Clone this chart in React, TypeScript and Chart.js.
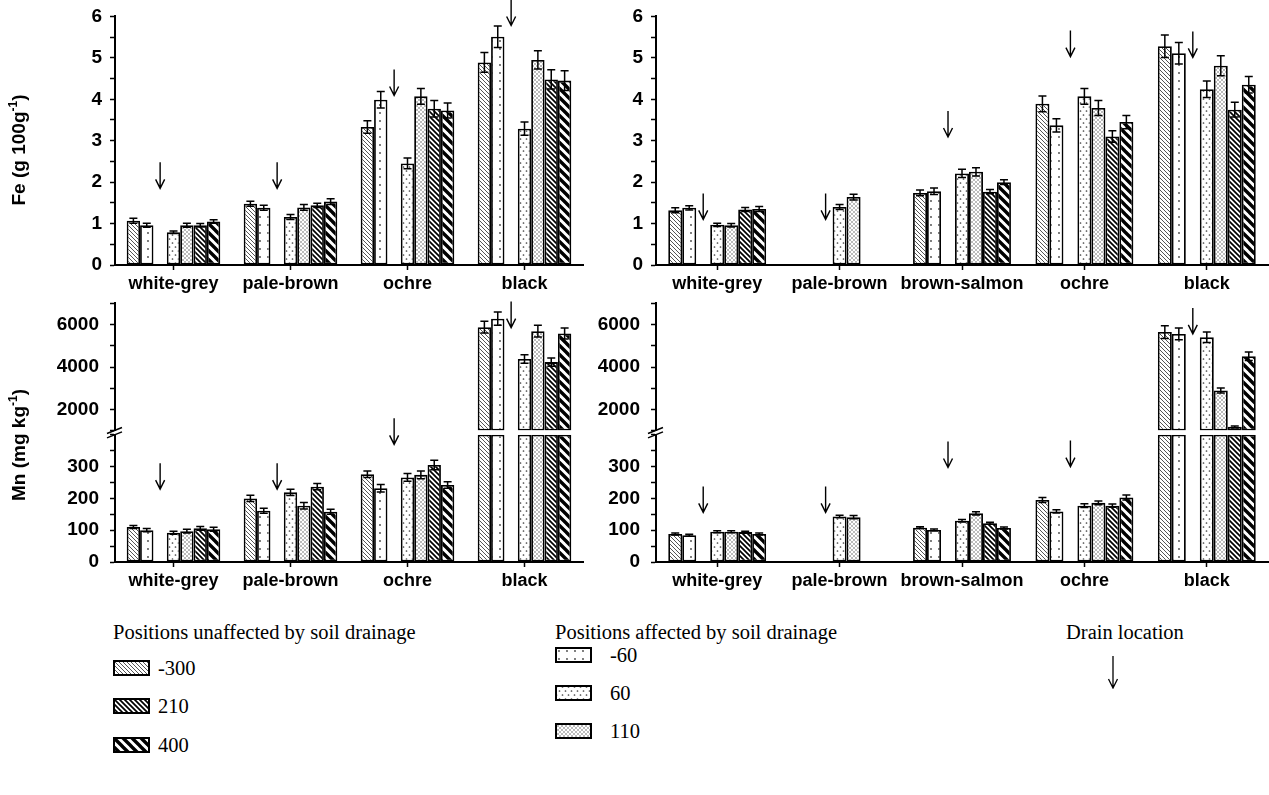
import React, { useEffect, useRef } from 'react';
import { Chart, registerables } from 'chart.js';

Chart.register(...registerables);

// ---------------- data ----------------
// series order: -300, -60, 60, 110, 210, 400 (drain sits between -60 and 60)
const feLeftCats = ['white-grey', 'pale-brown', 'ochre', 'black'];
const feLeftM300 = [1.07, 1.48, 3.33, 4.89];
const feLeftM60 = [0.96, 1.38, 3.99, 5.51];
const feLeftP60 = [0.79, 1.16, 2.45, 3.29];
const feLeftP110 = [0.96, 1.39, 4.07, 4.95];
const feLeftP210 = [0.96, 1.44, 3.77, 4.48];
const feLeftP400 = [1.05, 1.53, 3.73, 4.45];
const feLeftErrM300 = [0.06, 0.06, 0.15, 0.24];
const feLeftErrM60 = [0.05, 0.06, 0.2, 0.26];
const feLeftErrP60 = [0.03, 0.06, 0.13, 0.16];
const feLeftErrP110 = [0.05, 0.07, 0.19, 0.22];
const feLeftErrP210 = [0.04, 0.05, 0.2, 0.23];
const feLeftErrP400 = [0.04, 0.07, 0.18, 0.24];
const feLeftDrain = [1.85, 1.85, 4.09, 5.78];

const feRightCats = ['white-grey', 'pale-brown', 'brown-salmon', 'ochre', 'black'];
const feRightM300 = [1.32, null, 1.74, 3.89, 5.28];
const feRightM60 = [1.38, null, 1.78, 3.37, 5.11];
const feRightP60 = [0.97, 1.4, 2.21, 4.07, 4.24];
const feRightP110 = [0.96, 1.64, 2.25, 3.79, 4.81];
const feRightP210 = [1.34, null, 1.77, 3.1, 3.75];
const feRightP400 = [1.35, null, 2.0, 3.45, 4.35];
const feRightErrM300 = [0.06, null, 0.07, 0.19, 0.27];
const feRightErrM60 = [0.05, null, 0.08, 0.16, 0.26];
const feRightErrP60 = [0.04, 0.06, 0.1, 0.19, 0.2];
const feRightErrP110 = [0.04, 0.07, 0.1, 0.18, 0.24];
const feRightErrP210 = [0.05, null, 0.05, 0.14, 0.18];
const feRightErrP400 = [0.06, null, 0.06, 0.16, 0.2];
const feRightDrain = [1.1, 1.1, 3.09, 5.03, 5.01];

const mnLeftCats = ['white-grey', 'pale-brown', 'ochre', 'black'];
const mnLeftM300 = [110, 200, 276, 5880];
const mnLeftM60 = [100, 161, 232, 6280];
const mnLeftP60 = [92, 219, 266, 4380];
const mnLeftP110 = [97, 177, 274, 5690];
const mnLeftP210 = [106, 237, 305, 4230];
const mnLeftP400 = [103, 158, 242, 5580];
const mnLeftErrM300 = [5, 10, 10, 280];
const mnLeftErrM60 = [5, 8, 12, 310];
const mnLeftErrP60 = [5, 10, 12, 200];
const mnLeftErrP110 = [6, 10, 12, 280];
const mnLeftErrP210 = [6, 10, 15, 200];
const mnLeftErrP400 = [6, 8, 10, 260];
const mnLeftDrain = [229, 229, 370, 5860];

const mnRightCats = ['white-grey', 'pale-brown', 'brown-salmon', 'ochre', 'black'];
const mnRightM300 = [88, null, 108, 195, 5650];
const mnRightM60 = [84, null, 101, 159, 5560];
const mnRightP60 = [95, 143, 130, 177, 5400];
const mnRightP110 = [95, 141, 153, 186, 2890];
const mnRightP210 = [94, null, 122, 177, 1180];
const mnRightP400 = [88, null, 107, 203, 4510];
const mnRightErrM300 = [3, null, 3, 8, 300];
const mnRightErrM60 = [3, null, 3, 5, 280];
const mnRightErrP60 = [3, 4, 4, 6, 250];
const mnRightErrP110 = [3, 5, 5, 6, 120];
const mnRightErrP210 = [3, null, 3, 5, 40];
const mnRightErrP400 = [3, null, 3, 8, 200];
const mnRightDrain = [156, 156, 297, 300, 5560];

const feTicksMax = 6;
const mnLowerMax = 400;
const mnUpperMin = 1000;
const mnUpperMax = 7000;

const unaffectedLabels = ['-300', '210', '400'];
const affectedLabels = ['-60', '60', '110'];

// ---------------- style ----------------
const FONT = '"Liberation Sans", Arial, Helvetica, sans-serif';
const SERIF = '"Liberation Serif", "Times New Roman", serif';
Chart.defaults.font.family = FONT;

const SLOT_LABELS = ['-300', '-60', 'drain', '60', '110', '210', '400'];
const SLOT_PATTERNS = ['hatchFine', 'dotsSparse', '', 'dotsMed', 'dotsDense', 'hatchMed', 'hatchBold'];
const GAP_WEIGHT = 0.033;

type Vals = (number | null)[];

function makePattern(ctx: CanvasRenderingContext2D, kind: string): CanvasPattern | string {
  const t = document.createElement('canvas');
  const diag = (n: number, w: number, color: string) => {
    t.width = n;
    t.height = n;
    const g = t.getContext('2d')!;
    g.fillStyle = '#fff';
    g.fillRect(0, 0, n, n);
    g.strokeStyle = color;
    g.lineWidth = w;
    g.beginPath();
    for (const k of [-n, 0, n]) {
      g.moveTo(k - 1, -1);
      g.lineTo(k + n + 1, n + 1);
    }
    g.stroke();
  };
  const dots = (w: number, h: number, pts: number[][], r: number, color: string) => {
    t.width = w;
    t.height = h;
    const g = t.getContext('2d')!;
    g.fillStyle = '#fff';
    g.fillRect(0, 0, w, h);
    g.fillStyle = color;
    for (const [x, y] of pts) {
      g.beginPath();
      g.arc(x, y, r, 0, Math.PI * 2);
      g.fill();
    }
  };
  switch (kind) {
    case 'hatchFine': diag(4, 1, '#555'); break;
    case 'hatchMed': diag(5, 1.7, '#000'); break;
    case 'hatchBold': diag(9, 3.4, '#000'); break;
    case 'dotsSparse': dots(8, 8, [[4, 4]], 0.9, '#444'); break;
    case 'dotsMed': dots(6, 8, [[1.5, 2], [4.5, 6]], 0.85, '#444'); break;
    case 'dotsDense': dots(4, 4, [[1, 1], [3, 3]], 0.75, '#555'); break;
    default: return '#fff';
  }
  return ctx.createPattern(t, 'repeat') || '#fff';
}

interface Panel {
  cats: string[];
  values: Vals[];
  errors: Vals[];
  drain: number[];
  mn: boolean;
  left: number; top: number; width: number; height: number;
  yWidth: number; padTop: number; padRight: number; xHeight: number;
  title?: [string, string, string];
  titleY?: number;
}

const errorBarPlugin = {
  id: 'errorBars',
  afterDatasetsDraw(chart: any) {
    const ctx = chart.ctx;
    ctx.save();
    ctx.strokeStyle = '#000';
    ctx.lineWidth = 1.5;
    chart.data.datasets.forEach((ds: any, di: number) => {
      if (!ds.errVals) return;
      const meta = chart.getDatasetMeta(di);
      const ys = chart.scales[meta.yAxisID];
      ds.rawVals.forEach((v: number | null, i: number) => {
        const e = ds.errVals[i];
        if (v == null || e == null) return;
        if (ds.section === 'low' && v > mnLowerMax) return;
        if (ds.section === 'up' && v <= mnUpperMin) return;
        const el = meta.data[i];
        if (!el) return;
        const x = el.x;
        const y1 = ys.getPixelForValue(v + e);
        const y0 = ys.getPixelForValue(v - e);
        const cw = 4;
        ctx.beginPath();
        ctx.moveTo(x, y0); ctx.lineTo(x, y1);
        ctx.moveTo(x - cw, y1); ctx.lineTo(x + cw, y1);
        ctx.moveTo(x - cw, y0); ctx.lineTo(x + cw, y0);
        ctx.stroke();
      });
    });
    ctx.restore();
  },
};

function drawArrow(ctx: CanvasRenderingContext2D, x: number, yTip: number, len: number) {
  ctx.beginPath();
  ctx.moveTo(x, yTip - len);
  ctx.lineTo(x, yTip);
  ctx.moveTo(x - 4.5, yTip - 9);
  ctx.lineTo(x, yTip);
  ctx.lineTo(x + 4.5, yTip - 9);
  ctx.stroke();
}

function drainPlugin(drain: number[], mn: boolean, gapIndex: number) {
  return {
    id: 'drainArrows',
    afterDatasetsDraw(chart: any) {
      const ctx = chart.ctx;
      const meta = chart.getDatasetMeta(gapIndex);
      ctx.save();
      ctx.strokeStyle = '#000';
      ctx.lineWidth = 1.4;
      drain.forEach((v, i) => {
        const el = meta.data[i];
        if (!el) return;
        const scale = mn ? (v > mnUpperMin ? chart.scales.yUp : chart.scales.yLow) : chart.scales.y;
        drawArrow(ctx, el.x, scale.getPixelForValue(v), 26);
      });
      ctx.restore();
    },
  };
}

function titlePlugin(parts: [string, string, string], cy: number) {
  return {
    id: 'yTitle',
    afterDraw(chart: any) {
      const ctx = chart.ctx;
      const cx = 20;
      ctx.save();
      ctx.translate(cx, cy);
      ctx.rotate(-Math.PI / 2);
      ctx.fillStyle = '#000';
      ctx.textBaseline = 'middle';
      const big = `bold 19px ${FONT}`;
      const small = `bold 12px ${FONT}`;
      ctx.font = big;
      const w1 = ctx.measureText(parts[0]).width;
      const w3 = ctx.measureText(parts[2]).width;
      ctx.font = small;
      const w2 = ctx.measureText(parts[1]).width;
      let x = -(w1 + w2 + w3) / 2;
      ctx.font = big;
      ctx.fillText(parts[0], x, 0);
      x += w1;
      ctx.font = small;
      ctx.fillText(parts[1], x, -6);
      x += w2;
      ctx.font = big;
      ctx.fillText(parts[2], x, 0);
      ctx.restore();
    },
  };
}

const breakPlugin = {
  id: 'axisBreak',
  afterDraw(chart: any) {
    const up = chart.scales.yUp;
    const low = chart.scales.yLow;
    if (!up || !low) return;
    const ctx = chart.ctx;
    const x = chart.chartArea.left;
    const mid = (up.bottom + low.top) / 2;
    ctx.save();
    ctx.strokeStyle = '#000';
    ctx.lineWidth = 1.5;
    ctx.beginPath();
    for (const off of [-2.2, 2.2]) {
      ctx.moveTo(x - 8, mid + off + 3);
      ctx.lineTo(x + 7, mid + off - 3);
    }
    ctx.stroke();
    ctx.restore();
  },
};

function makeConfig(p: Panel, ctx: CanvasRenderingContext2D): any {
  const xFont = { family: FONT, size: 18, weight: 'bold' as const };
  const yFont = { family: FONT, size: 19, weight: 'bold' as const };
  const barStyle = {
    borderColor: '#000',
    borderWidth: 1.8,
    borderSkipped: false,
    categoryPercentage: 0.8,
    barPercentage: 1.0,
  };
  const datasets: any[] = [];
  let vi = 0;
  let gapIndex = 0;
  SLOT_PATTERNS.forEach((pk, k) => {
    if (!pk) {
      gapIndex = datasets.length;
      datasets.push({
        label: SLOT_LABELS[k],
        data: p.cats.map(() => null),
        stack: 's' + k,
        yAxisID: p.mn ? 'yLow' : 'y',
        backgroundColor: '#fff',
        ...barStyle,
      });
      return;
    }
    const vals = p.values[vi];
    const errs = p.errors[vi];
    vi++;
    const bg = makePattern(ctx, pk);
    if (!p.mn) {
      datasets.push({
        label: SLOT_LABELS[k], data: vals, rawVals: vals, errVals: errs, section: 'all',
        backgroundColor: bg, stack: 's' + k, yAxisID: 'y', ...barStyle,
      });
    } else {
      datasets.push({
        label: SLOT_LABELS[k],
        data: vals.map((v) => (v == null ? null : Math.min(v, mnLowerMax))),
        rawVals: vals, errVals: errs, section: 'low',
        backgroundColor: bg, stack: 's' + k, yAxisID: 'yLow', ...barStyle,
      });
      datasets.push({
        label: SLOT_LABELS[k],
        data: vals.map((v) => (v != null && v > mnUpperMin ? [mnUpperMin, v] : null)),
        rawVals: vals, errVals: errs, section: 'up',
        backgroundColor: bg, stack: 's' + k, yAxisID: 'yUp', ...barStyle,
      });
    }
  });

  const grid = { display: true, drawOnChartArea: false, drawTicks: true, tickLength: 5, tickColor: '#000', tickWidth: 1.5 };
  const border = { display: true, color: '#000', width: 2 };
  const yAfterFit = (s: any) => { s.width = p.yWidth; };

  const scales: any = {
    x: {
      type: 'category',
      grid: { ...grid, offset: false },
      border,
      ticks: { color: '#000', font: xFont, autoSkip: false, maxRotation: 0, minRotation: 0, padding: 3 },
      afterFit: (s: any) => { s.height = p.xHeight; },
    },
  };
  if (!p.mn) {
    scales.y = {
      type: 'linear', position: 'left', min: 0, max: feTicksMax,
      grid, border,
      ticks: {
        stepSize: 0.5, autoSkip: false, maxTicksLimit: 100, color: '#000', font: yFont, padding: 8,
        callback: (v: number) => (Math.abs(v - Math.round(v)) < 1e-6 ? String(Math.round(v)) : ''),
      },
      afterFit: yAfterFit,
    };
  } else {
    scales.yLow = {
      type: 'linear', position: 'left', stack: 'mn', stackWeight: 1, weight: 0,
      min: 0, max: mnLowerMax, grid, border,
      ticks: {
        stepSize: 50, autoSkip: false, maxTicksLimit: 100, color: '#000', font: yFont, padding: 11,
        callback: (v: number) => (v % 100 === 0 && v < mnLowerMax ? String(v) : ''),
      },
      afterFit: yAfterFit,
    };
    scales.yGap = {
      type: 'linear', position: 'left', stack: 'mn', stackWeight: GAP_WEIGHT, weight: 1, display: false,
    };
    scales.yUp = {
      type: 'linear', position: 'left', stack: 'mn', stackWeight: 1, weight: 2,
      min: mnUpperMin, max: mnUpperMax, grid, border,
      ticks: {
        stepSize: 1000, autoSkip: false, maxTicksLimit: 100, color: '#000', font: yFont, padding: 11,
        callback: (v: number) => (v % 2000 === 0 ? String(v) : ''),
      },
      afterFit: yAfterFit,
    };
  }

  const plugins: any[] = [errorBarPlugin, drainPlugin(p.drain, p.mn, gapIndex)];
  if (p.mn) plugins.push(breakPlugin);
  if (p.title) plugins.push(titlePlugin(p.title, p.titleY ?? p.height / 2));

  return {
    type: 'bar',
    data: { labels: p.cats, datasets },
    options: {
      responsive: false,
      maintainAspectRatio: false,
      animation: false,
      layout: { autoPadding: false, padding: { top: p.padTop, right: p.padRight, left: 0, bottom: 0 } },
      plugins: { legend: { display: false }, tooltip: { enabled: false }, title: { display: false } },
      scales,
    },
    plugins,
  };
}

const panels: Panel[] = [
  {
    cats: feLeftCats,
    values: [feLeftM300, feLeftM60, feLeftP60, feLeftP110, feLeftP210, feLeftP400],
    errors: [feLeftErrM300, feLeftErrM60, feLeftErrP60, feLeftErrP110, feLeftErrP210, feLeftErrP400],
    drain: feLeftDrain, mn: false,
    left: 0, top: -3, width: 600, height: 298, yWidth: 115, padTop: 12, padRight: 17, xHeight: 30,
    title: ['Fe (g 100g', '-1', ')'], titleY: 153,
  },
  {
    cats: feRightCats,
    values: [feRightM300, feRightM60, feRightP60, feRightP110, feRightP210, feRightP400],
    errors: [feRightErrM300, feRightErrM60, feRightErrP60, feRightErrP110, feRightErrP210, feRightErrP400],
    drain: feRightDrain, mn: false,
    left: 575, top: -3, width: 694, height: 298, yWidth: 81, padTop: 12, padRight: 1, xHeight: 30,
  },
  {
    cats: mnLeftCats,
    values: [mnLeftM300, mnLeftM60, mnLeftP60, mnLeftP110, mnLeftP210, mnLeftP400],
    errors: [mnLeftErrM300, mnLeftErrM60, mnLeftErrP60, mnLeftErrP110, mnLeftErrP210, mnLeftErrP400],
    drain: mnLeftDrain, mn: true,
    left: 0, top: 281, width: 600, height: 314, yWidth: 115, padTop: 7, padRight: 17, xHeight: 33,
    title: ['Mn (mg kg', '-1', ')'], titleY: 164,
  },
  {
    cats: mnRightCats,
    values: [mnRightM300, mnRightM60, mnRightP60, mnRightP110, mnRightP210, mnRightP400],
    errors: [mnRightErrM300, mnRightErrM60, mnRightErrP60, mnRightErrP110, mnRightErrP210, mnRightErrP400],
    drain: mnRightDrain, mn: true,
    left: 575, top: 281, width: 694, height: 314, yWidth: 81, padTop: 7, padRight: 1, xHeight: 33,
  },
];

function ChartCanvas({ panel }: { panel: Panel }) {
  const ref = useRef<HTMLCanvasElement>(null);
  useEffect(() => {
    const c = ref.current!;
    const chart = new Chart(c, makeConfig(panel, c.getContext('2d')!));
    return () => chart.destroy();
  }, [panel]);
  return (
    <canvas
      ref={ref}
      width={panel.width}
      height={panel.height}
      style={{ position: 'absolute', left: panel.left, top: panel.top, width: panel.width, height: panel.height }}
    />
  );
}

function Swatch({ kind, left, top }: { kind: string; left: number; top: number }) {
  const ref = useRef<HTMLCanvasElement>(null);
  useEffect(() => {
    const c = ref.current!;
    const g = c.getContext('2d')!;
    g.clearRect(0, 0, c.width, c.height);
    g.fillStyle = makePattern(g, kind) as any;
    g.fillRect(0, 0, c.width, c.height);
    g.strokeStyle = '#000';
    g.lineWidth = 2;
    g.strokeRect(1, 1, c.width - 2, c.height - 2);
  }, [kind]);
  return <canvas ref={ref} width={37} height={16} style={{ position: 'absolute', left, top }} />;
}

function ArrowIcon({ left, top }: { left: number; top: number }) {
  const ref = useRef<HTMLCanvasElement>(null);
  useEffect(() => {
    const c = ref.current!;
    const g = c.getContext('2d')!;
    g.clearRect(0, 0, c.width, c.height);
    g.strokeStyle = '#000';
    g.lineWidth = 1.3;
    drawArrow(g, c.width / 2, c.height - 1, c.height - 2);
  }, []);
  return <canvas ref={ref} width={14} height={34} style={{ position: 'absolute', left, top }} />;
}

const legendText: React.CSSProperties = {
  position: 'absolute',
  fontFamily: SERIF,
  fontSize: 20.5,
  lineHeight: '24px',
  color: '#000',
  whiteSpace: 'nowrap',
};

export default function App() {
  const unaffectedKinds = ['hatchFine', 'hatchMed', 'hatchBold'];
  const affectedKinds = ['dotsSparse', 'dotsMed', 'dotsDense'];
  const col1Rows = [668, 706, 745];
  const col2Rows = [655, 693, 731];
  return (
    <div style={{ position: 'absolute', left: 0, top: 0, width: 1269, height: 795, background: '#fff', overflow: 'hidden' }}>
      {panels.map((p, i) => (
        <ChartCanvas key={i} panel={p} />
      ))}
      <div style={{ ...legendText, left: 113, top: 620 }}>Positions unaffected by soil drainage</div>
      {unaffectedLabels.map((lab, i) => (
        <React.Fragment key={lab}>
          <Swatch kind={unaffectedKinds[i]} left={113} top={col1Rows[i] - 8} />
          <div style={{ ...legendText, left: 158, top: col1Rows[i] - 12 }}>{lab}</div>
        </React.Fragment>
      ))}
      <div style={{ ...legendText, left: 555, top: 620 }}>Positions affected by soil drainage</div>
      {affectedLabels.map((lab, i) => (
        <React.Fragment key={lab}>
          <Swatch kind={affectedKinds[i]} left={555} top={col2Rows[i] - 8} />
          <div style={{ ...legendText, left: 610, top: col2Rows[i] - 12 }}>{lab}</div>
        </React.Fragment>
      ))}
      <div style={{ ...legendText, left: 1066, top: 620 }}>Drain location</div>
      <ArrowIcon left={1106} top={655} />
    </div>
  );
}
